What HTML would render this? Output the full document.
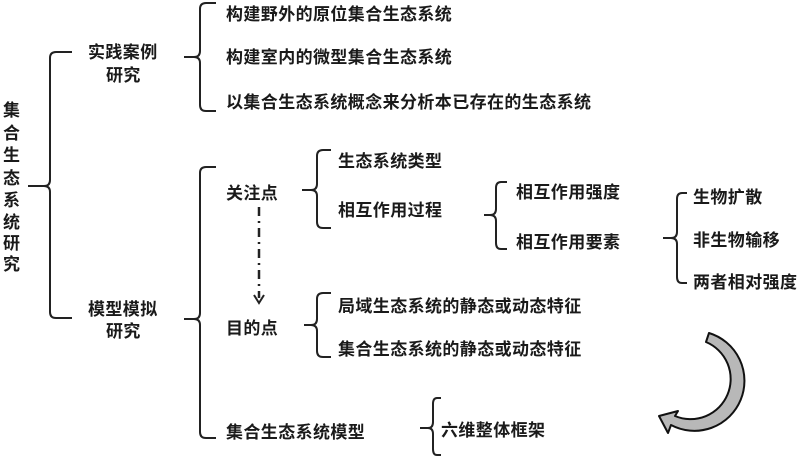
<!DOCTYPE html>
<html><head><meta charset="utf-8"><style>
html,body{margin:0;padding:0;background:#fff;}
svg text{font-family:"Liberation Sans","Noto Sans CJK SC",sans-serif;font-size:17px;fill:#1a1a1a;font-weight:bold;letter-spacing:0.4px;}
</style></head><body>
<svg width="800" height="457" viewBox="0 0 800 457" xmlns="http://www.w3.org/2000/svg">
<g fill="none" stroke="#222" stroke-width="2">
<path d="M72,52 H56 Q50,52 50,58 V180 Q50,186 44,186 H28 M44,186 Q50,186 50,192 V312 Q50,318 56,318 H72"/>
<path d="M216,3 H206 Q200,3 200,9 V51 Q200,57 194,57 H184 M194,57 Q200,57 200,63 V105 Q200,111 206,111 H216"/>
<path d="M216,167 H206 Q200,167 200,173 V313 Q200,319 194,319 H184 M194,319 Q200,319 200,325 V432 Q200,438 206,438 H216"/>
<path d="M331,150 H323 Q317,150 317,156 V184 Q317,190 311,190 H302 M311,190 Q317,190 317,196 V222 Q317,228 323,228 H331"/>
<path d="M331,293 H323 Q317,293 317,299 V319 Q317,325 311,325 H304 M311,325 Q317,325 317,331 V351 Q317,357 323,357 H331"/>
<path d="M507,182 H501 Q496,182 496,188 V209 Q496,215 490,215 H484 M490,215 Q496,215 496,221 V243 Q496,249 501,249 H507"/>
<path d="M687,193 H682 Q677,193 677,199 V232 Q677,238 671,238 H663 M671,238 Q677,238 677,244 V277 Q677,283 682,283 H687"/>
<path d="M441,398 H437 Q433,398 433,404 V422 Q433,428 428,428 H420 M428,428 Q433,428 433,434 V449 Q433,455 437,455 H441"/>
<path d="M259,207 V298" stroke-width="2.5" stroke-dasharray="9,5,2,5"/>
<path d="M254,295 L259,303 L264,295"/>
</g>
<path d="M709,333 A50,50 0 1,1 671,425 L668,433 L659,416 L678,411 L675,416 A40,40 0 1,0 706,342 Z" fill="#b8b8b8" stroke="#111" stroke-width="2" stroke-linejoin="round"/>
<g>
<text x="3" y="116">集</text><text x="3" y="139">合</text><text x="3" y="161">生</text><text x="3" y="184">态</text>
<text x="3" y="206">系</text><text x="3" y="228">统</text><text x="3" y="249">研</text><text x="3" y="270">究</text>
<text x="88" y="58">实践案例</text><text x="106" y="81">研究</text>
<text x="88" y="315">模型模拟</text><text x="106" y="337">研究</text>
<text x="226" y="20">构建野外的原位集合生态系统</text>
<text x="226" y="63">构建室内的微型集合生态系统</text>
<text x="226" y="108">以集合生态系统概念来分析本已存在的生态系统</text>
<text x="226" y="199">关注点</text>
<text x="226" y="334">目的点</text>
<text x="226" y="438">集合生态系统模型</text>
<text x="338" y="167">生态系统类型</text>
<text x="338" y="216">相互作用过程</text>
<text x="338" y="312">局域生态系统的静态或动态特征</text>
<text x="338" y="355">集合生态系统的静态或动态特征</text>
<text x="516" y="198">相互作用强度</text>
<text x="516" y="248">相互作用要素</text>
<text x="693" y="203">生物扩散</text>
<text x="693" y="246">非生物输移</text>
<text x="693" y="288">两者相对强度</text>
<text x="441" y="436">六维整体框架</text>
</g>
</svg>
</body></html>
